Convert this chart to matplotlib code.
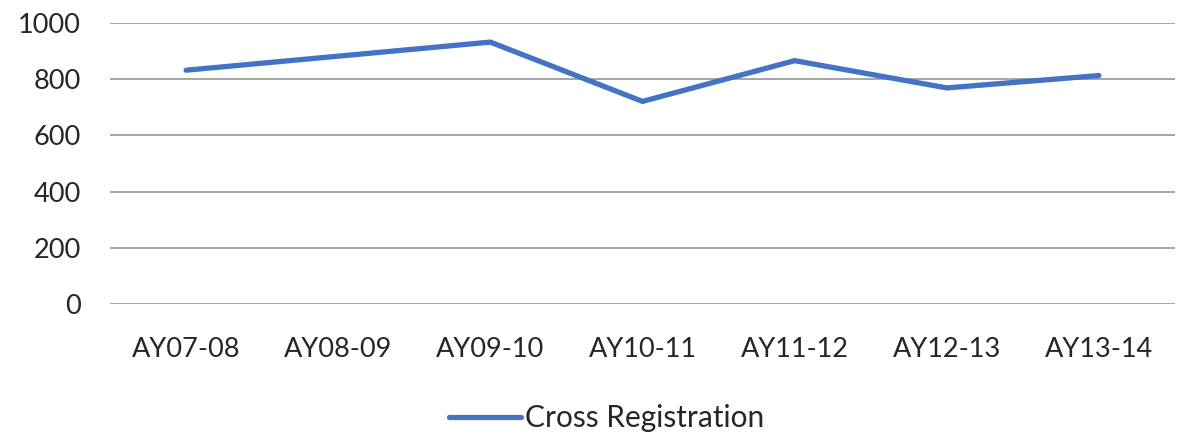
import matplotlib
matplotlib.use("Agg")
import matplotlib.pyplot as plt

categories = ["AY07-08", "AY08-09", "AY09-10", "AY10-11", "AY11-12", "AY12-13", "AY13-14"]
cross_registration = [832, 882, 932, 721, 866, 769, 813]
y_ticks = [0, 200, 400, 600, 800, 1000]
series_name = "Cross Registration"

plt.rcParams['font.family'] = ['Lato', 'DejaVu Sans']

fig = plt.figure(figsize=(11.8, 4.4), dpi=100)
ax = fig.add_axes([110/1180, 1 - 304/440, 1065/1180, 281/440])

x = list(range(len(categories)))
line, = ax.plot(x, cross_registration, color="#4472C4", linewidth=3.8,
                solid_joinstyle="miter", solid_capstyle="round", label=series_name)

ax.set_xlim(-0.5, len(categories) - 0.5)
ax.set_ylim(0, 1000)
ax.set_yticks(y_ticks)
ax.set_xticks(x)
ax.set_xticklabels(categories)
ax.yaxis.grid(True, color="#A6A6A6", linewidth=1.4)
ax.set_axisbelow(True)
for s in ax.spines.values():
    s.set_visible(False)
ax.tick_params(axis="both", length=0, labelsize=19.5, colors="#262626")
ax.tick_params(axis="y", pad=21)
ax.tick_params(axis="x", pad=24)

fig.legend(handles=[line], labels=[series_name], loc="center",
           bbox_to_anchor=(607/1180, 1 - 418/440), frameon=False,
           fontsize=21.5, handlelength=2.4, handletextpad=0.15,
           labelcolor="#262626")

fig.savefig("out.png", dpi=100, facecolor="white")
